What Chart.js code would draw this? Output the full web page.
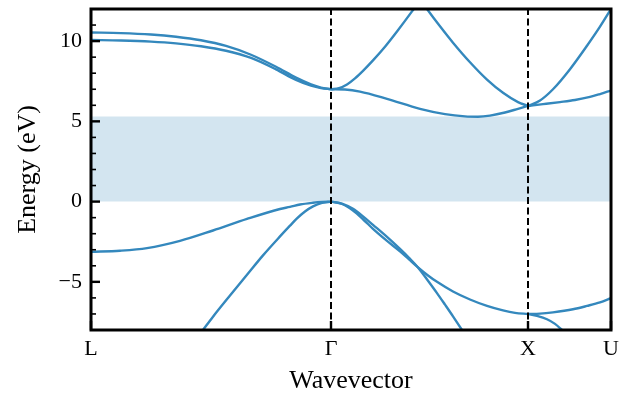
<!DOCTYPE html>
<html>
<head>
<meta charset="utf-8">
<style>
  html, body { margin: 0; padding: 0; background: #fff; }
  canvas { display: block; }
</style>
<script src="https://cdn.jsdelivr.net/npm/chart.js@4/dist/chart.umd.min.js"></script>
</head>
<body>
<canvas id="bands" width="637" height="395"></canvas>
<script>
// High-symmetry points along the k-path (path length units)
const kLabels = ['L', 'Γ', 'X', 'U'];
const kTicks = [0, 2.40, 4.37, 5.20];
const kL = kTicks[0], kG = kTicks[1], kX = kTicks[2], kU = kTicks[3];

// Energy axis
const yTicks = [-5, 0, 5, 10];
const yMin = -8, yMax = 12;
const gapTop = 5.3;   // band gap region: 0 .. gapTop eV

// Conduction bands, L -> Γ (two nearly parallel branches)
const cLG1_k = [0, 0.30, 0.60, 0.85, 1.10, 1.35, 1.60, 1.85, 2.05, 2.20, 2.30, 2.40];
const cLG1_e = [10.54, 10.50, 10.41, 10.27, 10.05, 9.70, 9.15, 8.40, 7.72, 7.30, 7.10, 7.00];
const cLG2_k = [0, 0.30, 0.60, 0.85, 1.10, 1.35, 1.60, 1.85, 2.05, 2.20, 2.30, 2.40];
const cLG2_e = [10.07, 10.04, 9.97, 9.86, 9.68, 9.40, 8.95, 8.24, 7.58, 7.22, 7.07, 7.00];

// Conduction bands, Γ -> X
const cGX1_k = [2.40, 2.48, 2.56, 2.64, 2.72, 2.82, 2.94, 3.06, 3.21, 3.33];
const cGX1_e = [7.00, 7.07, 7.30, 7.68, 8.15, 8.80, 9.65, 10.60, 11.85, 12.90];
const cGX2_k = [3.29, 3.36, 3.49, 3.62, 3.79, 3.96, 4.12, 4.27, 4.37];
const cGX2_e = [12.62, 12.00, 10.92, 9.90, 8.68, 7.60, 6.78, 6.20, 5.96];
const cGX3_k = [2.40, 2.54, 2.69, 2.96, 3.29, 3.54, 3.74, 3.87, 3.99, 4.14, 4.27, 4.37];
const cGX3_e = [7.00, 6.98, 6.85, 6.40, 5.78, 5.45, 5.31, 5.29, 5.36, 5.55, 5.78, 5.96];

// Conduction bands, X -> U
const cXU1_k = [4.37, 4.49, 4.62, 4.79, 4.96, 5.09, 5.20];
const cXU1_e = [5.96, 6.30, 7.00, 8.25, 9.71, 10.90, 12.00];
const cXU2_k = [4.37, 4.52, 4.69, 4.84, 4.99, 5.09, 5.20];
const cXU2_e = [5.96, 6.07, 6.20, 6.33, 6.52, 6.70, 6.92];

// Valence bands, L -> Γ
const vLG1_k = [0, 0.29, 0.56, 0.89, 1.22, 1.56, 1.89, 1.99, 2.09, 2.22, 2.31, 2.40];
const vLG1_e = [-3.13, -3.06, -2.90, -2.45, -1.80, -1.08, -0.46, -0.33, -0.18, -0.07, -0.02, 0];
const vLG2_k = [1.09, 1.12, 1.22, 1.39, 1.56, 1.72, 1.89, 1.99, 2.06, 2.14, 2.22, 2.31, 2.40];
const vLG2_e = [-8.25, -8.00, -7.17, -5.85, -4.56, -3.35, -2.17, -1.50, -1.05, -0.62, -0.30, -0.08, 0];

// Valence bands, Γ -> X
const vGX1_k = [2.40, 2.51, 2.62, 2.72, 2.82, 2.96, 3.09, 3.18, 3.27, 3.37, 3.46, 3.54, 3.62, 3.71, 3.79];
const vGX1_e = [0, -0.12, -0.45, -0.92, -1.45, -2.20, -2.95, -3.50, -4.10, -4.93, -5.70, -6.42, -7.15, -8.00, -8.75];
const vGX2_k = [2.40, 2.51, 2.62, 2.72, 2.82, 2.96, 3.09, 3.18, 3.27, 3.37, 3.46, 3.62, 3.79, 3.96, 4.12, 4.24, 4.37];
const vGX2_e = [0, -0.15, -0.56, -1.10, -1.70, -2.45, -3.10, -3.60, -4.10, -4.60, -5.00, -5.60, -6.10, -6.50, -6.78, -6.93, -7.00];

// Valence bands, X -> U
const vXU1_k = [4.37, 4.49, 4.62, 4.82, 4.96, 5.09, 5.20];
const vXU1_e = [-7.00, -6.98, -6.90, -6.71, -6.50, -6.28, -6.02];
const vXU2_k = [4.37, 4.46, 4.56, 4.64, 4.71, 4.79];
const vXU2_e = [-7.00, -7.12, -7.33, -7.62, -8.00, -8.45];

const bandColor = '#3488bd';
const gapColor = 'rgb(211, 229, 240)';
const serif = "'Liberation Serif', 'Times New Roman', serif";

function pts(k, e) {
  return k.map((v, i) => ({ x: v, y: e[i] }));
}

function band(k, e) {
  return {
    data: pts(k, e),
    borderColor: bandColor,
    borderWidth: 2.4,
    pointRadius: 0,
    fill: false,
    cubicInterpolationMode: 'monotone',
    order: 5
  };
}

function symLine(k) {
  return {
    data: [{ x: k, y: yMin }, { x: k, y: yMax }],
    borderColor: '#000',
    borderWidth: 2,
    borderDash: [7, 3.5],
    pointRadius: 0,
    fill: false,
    order: 0
  };
}

const datasets = [
  symLine(kG),
  symLine(kX),
  band(cLG1_k, cLG1_e), band(cLG2_k, cLG2_e),
  band(cGX1_k, cGX1_e), band(cGX2_k, cGX2_e), band(cGX3_k, cGX3_e),
  band(cXU1_k, cXU1_e), band(cXU2_k, cXU2_e),
  band(vLG1_k, vLG1_e), band(vLG2_k, vLG2_e),
  band(vGX1_k, vGX1_e), band(vGX2_k, vGX2_e),
  band(vXU1_k, vXU1_e), band(vXU2_k, vXU2_e),
  {
    // shaded band gap between 0 and gapTop
    data: [{ x: kL, y: gapTop }, { x: kU, y: gapTop }],
    borderWidth: 0,
    borderColor: 'rgba(0,0,0,0)',
    backgroundColor: gapColor,
    pointRadius: 0,
    fill: 'origin',
    order: 10
  }
];

// Frame plus inward-facing major/minor ticks
const frameTicks = {
  id: 'frameTicks',
  afterDraw(chart) {
    const { ctx, chartArea: a, scales: { x, y } } = chart;
    ctx.save();
    ctx.strokeStyle = '#000';
    ctx.lineCap = 'butt';

    // minor ticks every 1 eV
    ctx.lineWidth = 1.6;
    for (let v = yMin; v <= yMax; v++) {
      if (yTicks.includes(v)) continue;
      const py = y.getPixelForValue(v);
      ctx.beginPath();
      ctx.moveTo(a.left, py);
      ctx.lineTo(a.left + 5, py);
      ctx.stroke();
    }
    // major ticks
    ctx.lineWidth = 2.4;
    yTicks.forEach(v => {
      const py = y.getPixelForValue(v);
      ctx.beginPath();
      ctx.moveTo(a.left, py);
      ctx.lineTo(a.left + 9, py);
      ctx.stroke();
    });
    kTicks.forEach(v => {
      const px = x.getPixelForValue(v);
      ctx.beginPath();
      ctx.moveTo(px, a.bottom);
      ctx.lineTo(px, a.bottom - 9);
      ctx.stroke();
    });

    // axes frame
    ctx.lineWidth = 3;
    ctx.strokeRect(a.left, a.top, a.right - a.left, a.bottom - a.top);
    ctx.restore();
  }
};

new Chart(document.getElementById('bands'), {
  type: 'line',
  data: { datasets },
  options: {
    responsive: false,
    devicePixelRatio: 1,
    animation: false,
    layout: { padding: { left: 0, right: 26, top: 9, bottom: 0 } },
    plugins: {
      legend: { display: false },
      tooltip: { enabled: false }
    },
    scales: {
      x: {
        type: 'linear',
        min: kL,
        max: kU,
        grid: { display: false, drawTicks: false },
        border: { display: false },
        afterBuildTicks: s => { s.ticks = kTicks.map(v => ({ value: v })); },
        afterFit: s => { s.height = 65; s.paddingLeft = 0; s.paddingRight = 0; },
        ticks: {
          autoSkip: false,
          maxRotation: 0,
          minRotation: 0,
          padding: 6,
          color: '#000',
          font: { family: serif, size: 22 },
          callback: v => {
            const i = kTicks.indexOf(v);
            return i >= 0 ? kLabels[i] : '';
          }
        },
        title: {
          display: true,
          text: 'Wavevector',
          color: '#000',
          font: { family: serif, size: 26, lineHeight: 1 },
          padding: { top: 0, bottom: 1 }
        }
      },
      y: {
        type: 'linear',
        min: yMin,
        max: yMax,
        grid: { display: false, drawTicks: false },
        border: { display: false },
        afterBuildTicks: s => { s.ticks = yTicks.map(v => ({ value: v })); },
        afterFit: s => { s.width = 91; s.paddingTop = 0; s.paddingBottom = 0; },
        ticks: {
          padding: 9,
          color: '#000',
          font: { family: serif, size: 22 },
          callback: v => (v < 0 ? '\u2212' + Math.abs(v) : String(v))
        },
        title: {
          display: true,
          text: 'Energy (eV)',
          color: '#000',
          font: { family: serif, size: 26, lineHeight: 1 },
          padding: { top: 15, bottom: 0 }
        }
      }
    }
  },
  plugins: [frameTicks]
});
</script>
</body>
</html>
